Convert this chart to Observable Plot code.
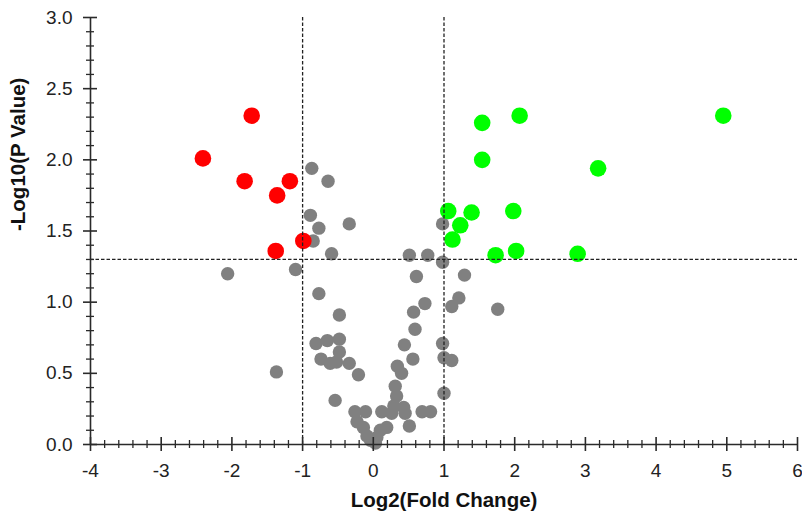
<!DOCTYPE html>
<html><head><meta charset="utf-8">
<script src="https://cdn.jsdelivr.net/npm/d3@7"></script>
<script src="https://cdn.jsdelivr.net/npm/@observablehq/plot@0.6"></script>
<style>
body{margin:0;background:#fff}
svg{font-family: Arial, "Liberation Sans", sans-serif}
</style>
</head><body><div id="chart"></div>
<script>
// ---- data ----
const xTickValues = [-4,-3,-2,-1,0,1,2,3,4,5,6];
const yTickValues = [0,0.5,1,1.5,2,2.5,3];
const xTitle = "Log2(Fold Change)";
const yTitle = "-Log10(P Value)";
const foldCutoffs = [-1, 1];
const pCutoff = 1.301; // -log10(0.05)

const downLog2FC = [-1.72,-2.41,-1.82,-1.18,-1.36,-0.99,-1.38];
const downNegLogP = [2.31, 2.01, 1.85, 1.85, 1.75, 1.43, 1.36];

const upLog2FC = [1.54,2.07,1.54,3.18,1.06,1.39,1.98,1.23,1.12,1.73,2.02,2.89,4.95];
const upNegLogP = [2.26,2.31,2.00,1.94,1.64,1.63,1.64,1.54,1.44,1.33,1.36,1.34,2.31];

const nsLog2FC = [-0.87,-0.64,-0.89,-0.77,-0.34,-0.85,-0.59,-2.06,-1.10,-0.77,-0.48,-0.81,-0.65,-0.48,-0.48,-0.74,-0.61,-0.52,-0.34,-0.21,-1.37,-0.54,
  -0.26,-0.11,-0.23,-0.14,-0.09,0.03,0.05,0.10,0.19,0.12,0.31,0.33,0.29,0.43,0.26,0.45,0.51,0.69,0.81,1.00,-0.04,
  0.34,0.40,0.56,0.44,0.59,0.57,0.73,0.61,0.51,0.77,0.98,0.98,0.98,1.00,1.11,1.11,1.21,1.29,1.76];
const nsNegLogP = [1.94,1.85,1.61,1.52,1.55,1.43,1.34,1.20,1.23,1.06,0.91,0.71,0.73,0.74,0.65,0.60,0.57,0.58,0.57,0.49,0.51,0.31,
  0.23,0.23,0.16,0.12,0.06,0.01,0.05,0.10,0.12,0.23,0.41,0.34,0.27,0.26,0.22,0.22,0.13,0.23,0.23,0.36,0.03,
  0.55,0.50,0.60,0.70,0.81,0.93,0.99,1.18,1.33,1.33,1.28,1.55,0.71,0.61,0.59,0.97,1.03,1.19,0.95];

// ---- build tables ----
const toRows = (xs, ys) => xs.map((x, i) => ({x, y: ys[i]}));
const ns = toRows(nsLog2FC, nsNegLogP);
const down = toRows(downLog2FC, downNegLogP);
const up = toRows(upLog2FC, upNegLogP);

const W = 802, H = 518, mL = 90, mR = 5, mT = 17, mB = 74;
const PW = W - mL - mR, PH = H - mT - mB;
const xMinor = d3.range(-40, 61, 2).map(v => v / 10).filter(v => !Number.isInteger(v));
const yMinor = d3.range(0, 31, 1).map(v => v / 10).filter(v => Math.round(v * 10) % 5 !== 0);
const axisColor = "#2a2a2a";

const chart = Plot.plot({
  width: W, height: H,
  marginLeft: mL, marginRight: mR, marginTop: mT, marginBottom: mB,
  x: {domain: [-4, 6], axis: null},
  y: {domain: [0, 3], axis: null},
  marks: [
    Plot.dot(ns, {x: "x", y: "y", r: 6.7, fill: "#808080", stroke: "none"}),
    Plot.dot(down, {x: "x", y: "y", r: 8.3, fill: "#ff0000", stroke: "none"}),
    Plot.dot(up, {x: "x", y: "y", r: 8.3, fill: "#00ff00", stroke: "none"}),
    Plot.ruleX(foldCutoffs, {stroke: "#222", strokeWidth: 1.3, strokeDasharray: "3.5,2"}),
    Plot.ruleY([pCutoff], {stroke: "#222", strokeWidth: 1.3, strokeDasharray: "3.5,2"}),
    Plot.ruleX([xTickValues[0]], {stroke: axisColor, strokeWidth: 1.6}),
    Plot.ruleY([yTickValues[0]], {stroke: axisColor, strokeWidth: 1.6}),
    Plot.tickX(xTickValues, {x: d => d, insetTop: PH - 7, insetBottom: -7, stroke: axisColor, strokeWidth: 1.6}),
    Plot.tickX(xMinor, {x: d => d, insetTop: PH - 4, insetBottom: -4, stroke: axisColor, strokeWidth: 1.3}),
    Plot.tickY(yTickValues, {y: d => d, insetLeft: -7, insetRight: PW - 7, stroke: axisColor, strokeWidth: 1.6}),
    Plot.tickY(yMinor, {y: d => d, insetLeft: -4, insetRight: PW - 4, stroke: axisColor, strokeWidth: 1.3}),
    Plot.text(xTickValues, {x: d => d, frameAnchor: "bottom", text: d => String(d), dy: 32, fontSize: 19, fill: "#222"}),
    Plot.text(yTickValues, {y: d => d, frameAnchor: "left", text: d => d.toFixed(1), textAnchor: "end", dx: -18, fontSize: 19, fill: "#222"}),
    Plot.text([xTitle], {frameAnchor: "bottom", text: d => d, dy: 62, fontSize: 20.5, fontWeight: "bold", fill: "#111"}),
    Plot.text([yTitle], {frameAnchor: "left", text: d => d, rotate: -90, dx: -72, fontSize: 20.5, fontWeight: "bold", fill: "#111"})
  ]
});
document.getElementById("chart").appendChild(chart);
</script>
</body></html>
